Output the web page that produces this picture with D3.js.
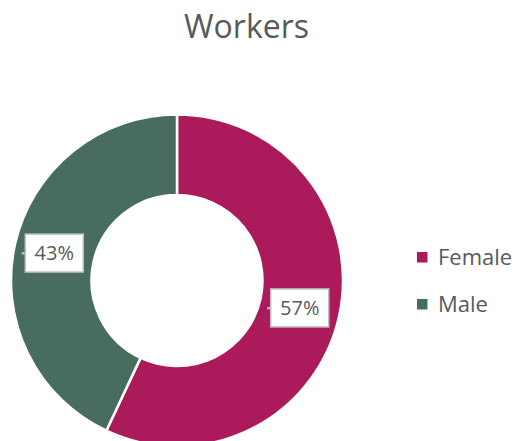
<!DOCTYPE html>
<html>
<head>
<meta charset="utf-8">
<script src="https://cdn.jsdelivr.net/npm/d3@7"></script>
<style>
  body { margin: 0; background: #fff; }
  text { font-family: "Open Sans", sans-serif; }
</style>
</head>
<body>
<div id="chart"></div>
<script>
const width = 518,
  height = 441;

const categories = ["Female", "Male"];
const values = [57, 43];
const colors = ["#ab1a5b", "#486c60"];
const title = "Workers";

const cx = 177, cy = 280.5,
  outerR = 166, innerR = 85.5;

const svg = d3.select("#chart")
  .append("svg")
  .attr("width", width)
  .attr("height", height);

svg.append("text")
  .attr("x", 246.5)
  .attr("y", 38)
  .attr("text-anchor", "middle")
  .style("font-size", "32px")
  .style("fill", "#595959")
  .text(title);

const color = d3.scaleOrdinal().domain(categories).range(colors);

const pie = d3.pie().sort(null).value(d => d.value);
const data = categories.map((c, i) => ({ name: c, value: values[i] }));
const arcs = pie(data);

const arc = d3.arc().innerRadius(innerR).outerRadius(outerR);
const mid = d3.arc().innerRadius((innerR + outerR) / 2).outerRadius((innerR + outerR) / 2);

const g = svg.append("g").attr("transform", `translate(${cx},${cy})`);

g.selectAll("path.slice")
  .data(arcs)
  .enter()
  .append("path")
  .attr("class", "slice")
  .attr("d", arc)
  .style("fill", d => color(d.data.name))
  .style("stroke", "#fff")
  .style("stroke-width", 2.5);

const total = d3.sum(values);
const labels = g.selectAll("g.lbl")
  .data(arcs)
  .enter()
  .append("g")
  .attr("class", "lbl")
  .attr("transform", d => `translate(${mid.centroid(d)})`);

labels.each(function(d) {
  const lg = d3.select(this);
  const bw = 58, bh = 38;
  lg.append("rect")
    .attr("x", -bw / 2 - 3.5)
    .attr("y", -1)
    .attr("width", 3)
    .attr("height", 2.5)
    .style("fill", "#bfbfbf");
  lg.append("rect")
    .attr("x", -bw / 2)
    .attr("y", -bh / 2)
    .attr("width", bw)
    .attr("height", bh)
    .style("fill", "#fff")
    .style("stroke", "#bfbfbf")
    .style("stroke-width", 1.5);
  lg.append("text")
    .attr("text-anchor", "middle")
    .attr("dy", "0.36em")
    .style("font-size", "20px")
    .style("fill", "#595959")
    .text(Math.round(d.data.value / total * 100) + "%");
});

const legend = svg.append("g").attr("transform", "translate(417,252)");
const item = legend.selectAll("g")
  .data(categories)
  .enter()
  .append("g")
  .attr("transform", (d, i) => `translate(0,${i * 47})`);

item.append("rect")
  .attr("width", 10.5)
  .attr("height", 10.5)
  .style("fill", d => color(d));

item.append("text")
  .attr("x", 21)
  .attr("y", 13)
  .style("font-size", "22px")
  .style("fill", "#595959")
  .text(d => d);
</script>
</body>
</html>
